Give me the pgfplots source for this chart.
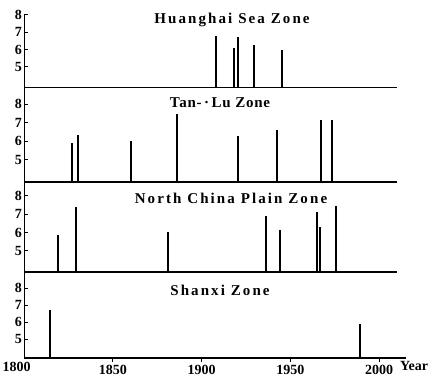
\documentclass[border=0pt]{standalone}
\usepackage{pgfplots}
\pgfplotsset{compat=1.18}
\usepackage{fontspec}
\setmainfont{Liberation Serif}
\newfontfamily\titlefont[LetterSpace=14]{Liberation Serif}
\newfontfamily\titlefontb[LetterSpace=5]{Liberation Serif}
\begin{document}
\begin{tikzpicture}
\useasboundingbox (0pt,0pt) rectangle (439pt,389pt);
\pgfplotsset{
  zone/.style={
    scale only axis,
    anchor=south west,
    xmin=1800, xmax=2010,
    width=372.5pt,
    axis x line*=bottom,
    axis y line*=left,
    axis line style={-, line width=1.2pt},
    ytick={5,6,7,8},
    xtick=\empty,
    ytick align=inside,
    xtick align=outside,
    major tick length=4pt,
    tick style={line width=1pt, black},
    /pgf/number format/assume math mode=true,
    /pgf/number format/1000 sep={},
    yticklabel style={font=\bfseries\fontsize{14}{14}\selectfont, xshift=1pt},
    xticklabel style={font=\bfseries\fontsize{14}{14}\selectfont},
    clip=true,
  },
  bars/.style={ycomb, line width=2pt, black, mark=none},
}
% Huanghai Sea Zone
\begin{axis}[zone, at={(24.3pt,301.3pt)}, height=72.7pt, ymin=3.8, ymax=8]
\addplot[bars] coordinates {(1908,6.8) (1918,6.1) (1920.5,6.75) (1929.6,6.25) (1945.4,6.0)};
\end{axis}
% Tan-Lu Zone
\begin{axis}[zone, at={(24.3pt,207pt)}, height=94pt, ymin=3.82, ymax=8.86]
\addplot[bars] coordinates {(1827,5.93) (1830,6.32) (1860,6.02) (1886,7.48) (1920.5,6.27) (1942.3,6.63) (1967,7.14) (1973.3,7.14)};
\end{axis}
% North China Plain Zone
\begin{axis}[zone, at={(24.3pt,117pt)}, height=90pt, ymin=3.86, ymax=8.74]
\addplot[bars] coordinates {(1819,5.87) (1829.3,7.38) (1881,6.04) (1936,6.9) (1944,6.13) (1965,7.14) (1966.6,6.31) (1976,7.45)};
\end{axis}
% Shanxi Zone
\begin{axis}[zone, at={(24.3pt,31pt)}, height=86pt, width=381.4pt, xmax=2015, ymin=3.88, ymax=8.96,
  xtick={1850,1900,1950,2000}]
\addplot[bars] coordinates {(1814.5,6.7) (1989,5.9)};
\end{axis}
\node[font=\titlefont\bfseries\fontsize{15}{15}\selectfont] at (232pt,369pt) {Huanghai Sea Zone};
\node[font=\titlefontb\bfseries\fontsize{15}{15}\selectfont] at (220pt,286pt) {Tan-\,·\,Lu Zone};
\node[font=\titlefont\bfseries\fontsize{15}{15}\selectfont] at (231pt,191pt) {North China Plain Zone};
\node[font=\titlefont\bfseries\fontsize{15}{15}\selectfont] at (220pt,99pt) {Shanxi Zone};
\node[font=\bfseries\fontsize{14}{14}\selectfont] at (16.7pt,22pt) {1800};
\node[font=\bfseries\fontsize{14}{14}\selectfont] at (414pt,23pt) {Year};
\end{tikzpicture}
\end{document}
